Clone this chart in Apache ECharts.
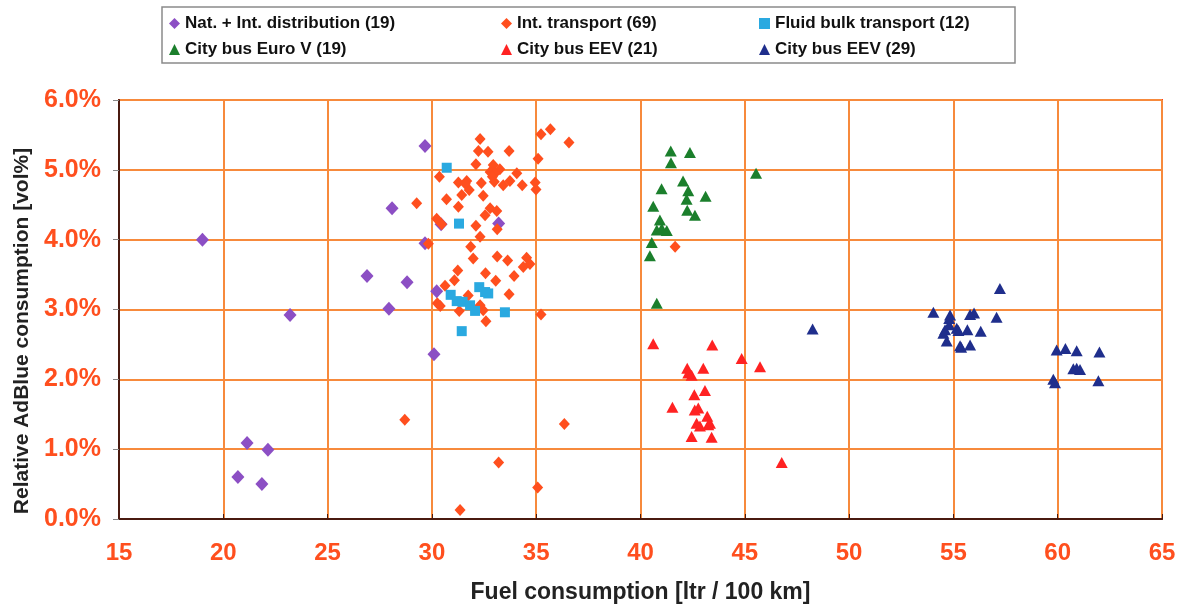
<!DOCTYPE html>
<html><head><meta charset="utf-8">
<script src="https://cdn.jsdelivr.net/npm/echarts@6/dist/echarts.min.js"></script>
<style>html,body{margin:0;padding:0;background:#fff}#c{width:1184px;height:607px}</style>
</head><body><div id="c"></div>
<script>
const seriesNames = ['Nat. + Int. distribution (19)','Int. transport (69)','Fluid bulk transport (12)','City bus Euro V (19)','City bus EEV (21)','City bus EEV (29)'];
const xTicks = [15,20,25,30,35,40,45,50,55,60,65];
const yTicks = [0,1,2,3,4,5,6];
const xTitle = 'Fuel consumption [ltr / 100 km]';
const yTitle = 'Relative AdBlue consumption [vol%]';

const natDist = [[19.0,4.0],[29.67,5.34],[28.09,4.45],[26.89,3.48],[28.81,3.39],[27.94,3.01],[23.2,2.92],[29.67,3.95],[30.44,4.22],[30.1,2.36],[30.23,3.26],[21.14,1.09],[22.14,0.99],[20.7,0.60],[21.85,0.50],[33.2,4.23]];
const intTransport = [[32.31,5.44],[32.23,5.27],[32.69,5.26],[33.7,5.27],[35.68,5.58],[35.23,5.51],[36.57,5.39],[35.09,5.16],[32.11,5.08],[32.94,5.07],[33.26,5.01],[32.79,4.97],[34.07,4.95],[33.03,4.95],[30.36,4.90],[31.27,4.82],[31.67,4.84],[32.37,4.81],[32.99,4.83],[33.42,4.78],[33.74,4.84],[34.33,4.78],[34.95,4.82],[34.99,4.72],[31.43,4.64],[31.79,4.71],[32.46,4.63],[29.27,4.52],[31.27,4.47],[32.79,4.45],[33.11,4.41],[32.55,4.35],[30.23,4.30],[30.47,4.22],[32.11,4.20],[33.13,4.15],[32.31,4.04],[29.83,3.94],[31.86,3.90],[31.98,3.73],[33.13,3.76],[33.63,3.70],[34.54,3.74],[34.70,3.65],[34.38,3.61],[33.94,3.48],[31.24,3.56],[32.57,3.52],[31.08,3.42],[33.06,3.41],[30.63,3.34],[33.70,3.22],[30.26,3.09],[31.74,3.20],[31.31,2.98],[32.46,2.99],[35.23,2.93],[32.59,2.83],[28.70,1.42],[36.35,1.36],[33.20,0.81],[35.07,0.45],[31.35,0.13],[41.66,3.90],[30.7,4.58],[32.31,3.06],[32.9,4.9],[31.6,4.8],[30.4,3.05]];
const fluidBulk = [[30.71,5.03],[31.3,4.23],[32.27,3.32],[32.70,3.23],[30.9,3.21],[31.19,3.12],[31.47,3.11],[31.83,3.06],[32.07,2.98],[33.5,2.96],[31.43,2.69],[32.55,3.25]];
const busEuroV = [[41.45,5.27],[42.37,5.25],[41.46,5.10],[45.54,4.95],[42.04,4.84],[41.01,4.73],[42.29,4.70],[42.21,4.58],[43.12,4.62],[40.61,4.48],[42.24,4.42],[42.61,4.35],[40.93,4.28],[40.78,4.14],[41.26,4.13],[41.02,4.16],[40.54,3.96],[40.45,3.77],[40.78,3.09]];
const busEEV21 = [[40.61,2.51],[43.44,2.49],[44.85,2.30],[45.73,2.18],[42.24,2.16],[43.01,2.16],[42.29,2.09],[42.45,2.06],[42.58,1.78],[43.09,1.84],[41.53,1.60],[42.77,1.59],[43.2,1.47],[42.85,1.33],[43.25,1.35],[43.33,1.37],[42.45,1.18],[43.41,1.17],[46.77,0.81],[42.69,1.37],[42.6,1.56]];
const busEEV29 = [[57.23,3.30],[54.04,2.96],[54.84,2.92],[55.8,2.93],[55.99,2.95],[57.07,2.89],[54.6,2.71],[54.8,2.78],[55.16,2.73],[55.24,2.70],[55.67,2.71],[56.31,2.69],[54.52,2.66],[54.68,2.55],[55.32,2.48],[55.8,2.49],[54.8,2.87],[55.37,2.46],[59.95,2.42],[60.37,2.44],[60.91,2.41],[62.0,2.39],[60.75,2.15],[61.07,2.14],[60.91,2.16],[59.79,2.0],[59.87,1.95],[61.95,1.98],[48.25,2.72]];

const datasets = [natDist,intTransport,fluidBulk,busEuroV,busEEV21,busEEV29];
const colors = ['#8c4fc4','#ff4f1e','#2aa9e0','#1b7f2c','#ff2222','#1f2e8c'];
const symbols = ['diamond','diamond','rect','triangle','triangle','triangle'];
const sizes = [[13,14],[11,12],[10,10],[12,11],[12,11],[12,11]];

const FONT = 'Liberation Sans, Arial, sans-serif';
const chart = echarts.init(document.getElementById('c'));
const legendText = {color:'#111',fontWeight:'bold',fontSize:17,fontFamily:FONT};
function mkLegend(left, names){
  return {orient:'vertical',left:left,top:10,itemGap:9,itemWidth:11,itemHeight:11,
    data:names,textStyle:legendText,selectedMode:false};
}
chart.setOption({
  animation:false,
  backgroundColor:'#fff',
  graphic:[
    {type:'rect',shape:{x:162,y:7,width:853,height:56},style:{fill:'none',stroke:'#8a8a8a',lineWidth:1.5},z:-1},
    {type:'text',x:22,y:331,rotation:Math.PI/2,style:{text:yTitle,fill:'#222',font:'bold 21px '+FONT,textAlign:'center',textVerticalAlign:'middle'}}
  ],
  legend:[mkLegend(164,[seriesNames[0],seriesNames[3]]),mkLegend(496,[seriesNames[1],seriesNames[4]]),mkLegend(754,[seriesNames[2],seriesNames[5]])],
  grid:{left:119,right:22,top:100,bottom:88,show:true,borderColor:'#ff3a18',borderWidth:2,backgroundColor:'#fff',outerBoundsMode:'none',containLabel:false},
  xAxis:{type:'value',min:xTicks[0],max:xTicks[xTicks.length-1],interval:5,
    name:xTitle,nameLocation:'middle',nameGap:62,
    nameTextStyle:{color:'#222',fontWeight:'bold',fontSize:23,fontFamily:FONT},
    axisLine:{show:true,onZero:false,lineStyle:{color:'#4a1a10',width:2}},
    axisTick:{show:true,inside:true,length:5,lineStyle:{color:'#4a1a10'}},
    axisLabel:{color:'#ff4f1e',fontWeight:'bold',fontSize:24,margin:22,fontFamily:FONT},
    splitLine:{show:true,lineStyle:{color:'#f78a3c',width:2}}},
  yAxis:{type:'value',min:yTicks[0],max:yTicks[yTicks.length-1],interval:1,
    axisLine:{show:true,lineStyle:{color:'#4a1a10',width:2}},
    axisTick:{show:true,length:6,lineStyle:{color:'#888'}},
    axisLabel:{color:'#ff4f1e',fontWeight:'bold',fontSize:25,margin:18,fontFamily:FONT,formatter:v=>v.toFixed(1)+'%'},
    splitLine:{show:true,lineStyle:{color:'#f78a3c',width:2}}},
  series:datasets.map((d,i)=>({name:seriesNames[i],type:'scatter',data:d,symbol:symbols[i],symbolSize:sizes[i],
    itemStyle:{color:colors[i],opacity:1},z:2+i}))
});
</script></body></html>
